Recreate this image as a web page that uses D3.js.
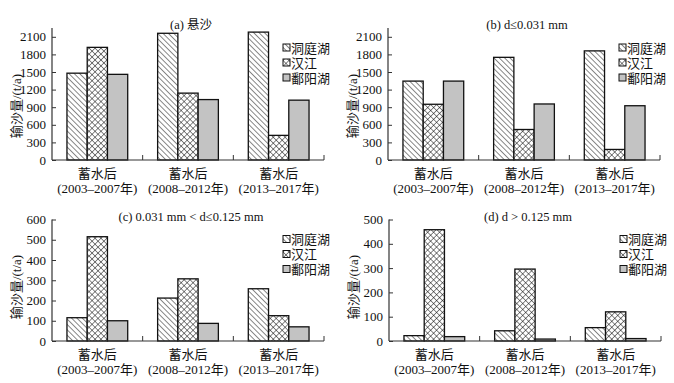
<!DOCTYPE html>
<html>
<head>
<meta charset="utf-8">
<script src="https://cdn.jsdelivr.net/npm/d3@7"></script>
<style>
  body { margin: 0; background: #fff; }
  svg text { font-family: "Liberation Serif", "Noto Sans CJK SC", serif; fill: #111; }
</style>
</head>
<body>
<svg width="674" height="383"></svg>
<script>
// categories and series
const periods = ["(2003–2007年)", "(2008–2012年)", "(2013–2017年)"];
const periodHead = "蓄水后";
const lakes = ["洞庭湖", "汉江", "鄱阳湖"];

// (a) 悬沙
const aDongting = [1480, 2160, 2180];
const aHanjiang = [1920, 1140, 420];
const aPoyang = [1460, 1030, 1020];
// (b) d<=0.031 mm
const bDongting = [1345, 1750, 1860];
const bHanjiang = [950, 520, 180];
const bPoyang = [1345, 955, 925];
// (c) 0.031 - 0.125 mm
const cDongting = [115, 212, 258];
const cHanjiang = [515, 307, 125];
const cPoyang = [100, 87, 70];
// (d) d>0.125 mm
const dDongting = [22, 42, 55];
const dHanjiang = [458, 296, 120];
const dPoyang = [18, 8, 10];

const ticksBig = [0, 300, 600, 900, 1200, 1500, 1800, 2100];
const ticksC = [0, 100, 200, 300, 400, 500, 600];
const ticksD = [0, 100, 200, 300, 400, 500];

const svg = d3.select("svg");

// patterns
const defs = svg.append("defs");
defs.append("pattern")
    .attr("id", "hatch")
    .attr("patternUnits", "userSpaceOnUse")
    .attr("width", 3.8).attr("height", 3.8)
    .attr("patternTransform", "rotate(-45)")
  .append("line")
    .attr("x1", 0).attr("y1", 0).attr("x2", 0).attr("y2", 3.8)
    .attr("stroke", "#111").attr("stroke-width", 1);

const cross = defs.append("pattern")
    .attr("id", "cross")
    .attr("patternUnits", "userSpaceOnUse")
    .attr("width", 4.2).attr("height", 4.2)
    .attr("patternTransform", "rotate(45)");
cross.append("rect").attr("width", 4.2).attr("height", 4.2).attr("fill", "#fff");
cross.append("line").attr("x1", 0).attr("y1", 0).attr("x2", 0).attr("y2", 4.2)
    .attr("stroke", "#111").attr("stroke-width", 1);
cross.append("line").attr("x1", 0).attr("y1", 0).attr("x2", 4.2).attr("y2", 0)
    .attr("stroke", "#111").attr("stroke-width", 1);

const fills = ["url(#hatch)", "url(#cross)", "#c3c3c3"];

const panels = [
    {title: "(a) 悬沙", data: [aDongting, aHanjiang, aPoyang], ticks: ticksBig, max: 2250,
     x: [52, 324], y: [160, 28], labelX: 17},
    {title: "(b) d≤0.031 mm", data: [bDongting, bHanjiang, bPoyang], ticks: ticksBig, max: 2250,
     x: [388, 660], y: [160, 28], labelX: 353},
    {title: "(c) 0.031 mm < d≤0.125 mm", data: [cDongting, cHanjiang, cPoyang], ticks: ticksC, max: 600,
     x: [52, 324], y: [341, 219.5], labelX: 17},
    {title: "(d) d > 0.125 mm", data: [dDongting, dHanjiang, dPoyang], ticks: ticksD, max: 500,
     x: [389, 661], y: [341, 219.5], labelX: 354}
];

panels.forEach(function(p) {
    const g = svg.append("g");

    const x0 = d3.scaleBand().domain(periods).range(p.x).padding(0);
    const x1 = d3.scaleBand().domain(lakes)
        .range([x0.bandwidth() * 0.165, x0.bandwidth() * 0.835]);
    const y = d3.scaleLinear().domain([0, p.max]).range(p.y);

    // bars
    periods.forEach(function(per, i) {
        lakes.forEach(function(lake, j) {
            const v = p.data[j][i];
            g.append("rect")
                .attr("x", x0(per) + x1(lake))
                .attr("y", y(v))
                .attr("width", x1.bandwidth())
                .attr("height", y(0) - y(v))
                .attr("fill", fills[j])
                .attr("stroke", "#111")
                .attr("stroke-width", 1.3);
        });
    });

    // y axis
    const yAxis = g.append("g")
        .attr("transform", `translate(${p.x[0]},0)`)
        .call(d3.axisRight(y).tickValues(p.ticks).tickSize(4).tickFormat(d3.format("d")));
    yAxis.select(".domain").attr("d", `M0,${p.y[1]}V${p.y[0]}`).attr("stroke", "#333").attr("stroke-width", 1.2);
    yAxis.selectAll(".tick line").attr("stroke", "#333");
    yAxis.selectAll(".tick text")
        .attr("x", -6).attr("text-anchor", "end")
        .attr("font-size", 13).style("font-family", "Liberation Serif");

    // x axis: ticks at category boundaries pointing up
    const xAxis = g.append("g");
    xAxis.append("line")
        .attr("x1", p.x[0]).attr("x2", p.x[1])
        .attr("y1", y(0)).attr("y2", y(0))
        .attr("stroke", "#333").attr("stroke-width", 1.2);
    const bounds = periods.map(d => x0(d) + x0.bandwidth());
    xAxis.selectAll("line.b").data(bounds).join("line")
        .attr("class", "b")
        .attr("x1", d => d).attr("x2", d => d)
        .attr("y1", y(0)).attr("y2", y(0) - 5)
        .attr("stroke", "#333").attr("stroke-width", 1);
    xAxis.selectAll("text.h").data(periods).join("text")
        .attr("class", "h")
        .attr("x", d => x0(d) + x0.bandwidth() / 2)
        .attr("y", y(0) + 18)
        .attr("text-anchor", "middle")
        .attr("font-size", 13)
        .text(periodHead);
    xAxis.selectAll("text.p").data(periods).join("text")
        .attr("class", "p")
        .attr("x", d => x0(d) + x0.bandwidth() / 2)
        .attr("y", y(0) + 33)
        .attr("text-anchor", "middle")
        .attr("font-size", 13)
        .text(d => d);

    // title
    g.append("text")
        .attr("x", (p.x[0] + p.x[1]) / 2 + 3)
        .attr("y", p.y[1] + 1)
        .attr("text-anchor", "middle")
        .attr("font-size", 12.5)
        .text(p.title);

    // y label
    g.append("text")
        .attr("transform", `translate(${p.labelX + 4},${y(0) - 54}) rotate(-90)`)
        .attr("text-anchor", "middle")
        .attr("font-size", 13)
        .text("输沙量/(t/a)");

    // legend
    const lg = g.append("g")
        .attr("transform", `translate(${p.x[1] - 41},${p.y[1] + 20})`);
    lakes.forEach(function(lake, j) {
        lg.append("rect")
            .attr("x", 0).attr("y", j * 15 - 4)
            .attr("width", 7).attr("height", 7)
            .attr("fill", fills[j]).attr("stroke", "#111").attr("stroke-width", 1);
        lg.append("text")
            .attr("x", 8).attr("y", j * 15 + 4.5)
            .attr("font-size", 13)
            .text(lake);
    });
});
</script>
</body>
</html>
